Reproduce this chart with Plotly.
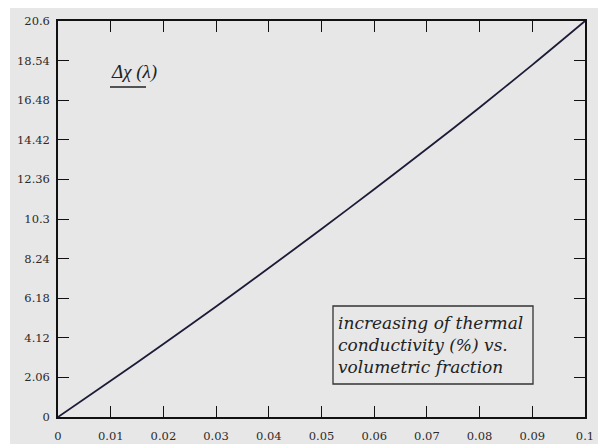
import plotly.graph_objects as go

x_vals = [0, 0.01, 0.02, 0.03, 0.04, 0.05, 0.06, 0.07, 0.08, 0.09, 0.1]
y_vals = [0, 1.88, 3.8, 5.75, 7.75, 9.78, 11.85, 13.95, 16.1, 18.32, 20.6]
y_ticks = [0, 2.06, 4.12, 6.18, 8.24, 10.3, 12.36, 14.42, 16.48, 18.54, 20.6]
y_tick_labels = ["0", "2.06", "4.12", "6.18", "8.24", "10.3", "12.36", "14.42", "16.48", "18.54", "20.6"]
x_ticks = [0, 0.01, 0.02, 0.03, 0.04, 0.05, 0.06, 0.07, 0.08, 0.09, 0.1]
x_tick_labels = ["0", "0.01", "0.02", "0.03", "0.04", "0.05", "0.06", "0.07", "0.08", "0.09", "0.1"]

W, H = 598, 444
L, R, T, B = 58, 13, 21, 27
pw, ph = W - L - R, H - T - B

def px(xp):
    return (xp - L) / pw

def py(yp):
    return (H - yp - B) / ph

fig = go.Figure()
fig.add_trace(go.Scatter(x=x_vals, y=y_vals, mode="lines",
                         line=dict(color="#1c1c38", width=1.8, shape="spline", smoothing=0.8),
                         showlegend=False, hoverinfo="skip"))

axis_common = dict(showgrid=False, zeroline=False, showline=True, linecolor="#111",
                   linewidth=1.5, mirror="ticks", ticks="inside", ticklen=11,
                   tickwidth=1.3, tickcolor="#111", automargin=False,
                   tickfont=dict(family="DejaVu Serif", size=11.5, color="#2a2a2a"))

fig.update_xaxes(range=[0, 0.1], tickvals=x_ticks, ticktext=x_tick_labels,
                 ticklabelstandoff=7, **axis_common)
fig.update_yaxes(range=[0, 20.6], tickvals=y_ticks, ticktext=y_tick_labels,
                 ticklabelstandoff=4, **axis_common)

shapes = [
    dict(type="rect", xref="paper", yref="paper", x0=px(10), x1=px(W + 5), y0=py(8), y1=py(H + 5),
         fillcolor="#e7e7e7", line=dict(width=0), layer="below"),
    dict(type="line", xref="paper", yref="paper", x0=px(110), x1=px(146), y0=py(87), y1=py(87),
         line=dict(color="#222", width=1.3)),
    dict(type="rect", xref="paper", yref="paper", x0=px(333), x1=px(533), y0=py(306), y1=py(384),
         line=dict(color="#333", width=1.3), fillcolor="rgba(0,0,0,0)"),
]

annotations = [
    dict(xref="paper", yref="paper", x=px(109), y=py(72), xanchor="left", yanchor="middle",
         text="<i>Δχ (λ)</i>", showarrow=False,
         font=dict(family="Liberation Serif", size=19, color="#222")),
    dict(xref="paper", yref="paper", x=px(336), y=py(345), xanchor="left", yanchor="middle",
         text="<i>increasing of thermal<br>conductivity (%) vs.<br>volumetric fraction</i>",
         showarrow=False, align="left",
         font=dict(family="DejaVu Serif", size=17, color="#222")),
]

fig.update_layout(width=W, height=H, margin=dict(l=L, r=R, t=T, b=B, autoexpand=False),
                  paper_bgcolor="white", plot_bgcolor="rgba(0,0,0,0)",
                  shapes=shapes, annotations=annotations)

fig.write_html("out.html")
